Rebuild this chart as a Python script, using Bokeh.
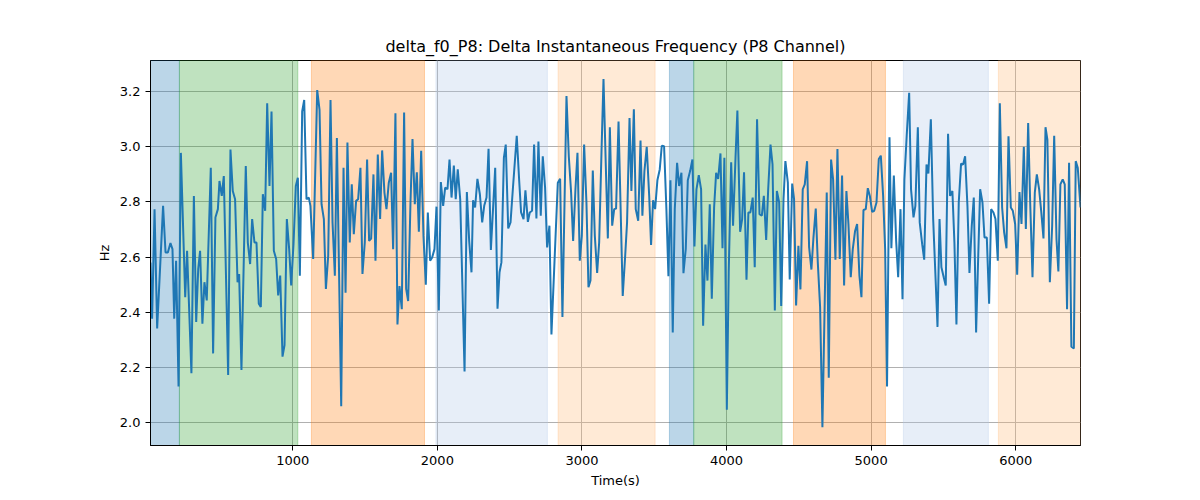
from bokeh.embed import file_html
from bokeh.resources import INLINE
from bokeh.models import ColumnDataSource, BoxAnnotation, Range1d, FixedTicker, NumeralTickFormatter
from bokeh.plotting import figure

# time stamps (s) and delta instantaneous frequency (Hz)
time_s = [
    16, 27, 44, 62, 103, 120, 136, 154, 168, 180, 193, 210, 226, 256, 269, 299, 316, 332, 346, 359,
    375, 389, 405, 433, 449, 465, 482, 493, 509, 523, 553, 569, 585, 601, 618, 629, 645, 675, 689, 705,
    719, 735, 749, 765, 779, 793, 809, 823, 839, 853, 869, 885, 899, 913, 929, 943, 959, 975, 989, 1005,
    1021, 1035, 1049, 1065, 1079, 1095, 1111,
    1122, 1141, 1169, 1185, 1199, 1215, 1229, 1245, 1261, 1275, 1291, 1305, 1335, 1351, 1365, 1378, 1394, 1408,
    1422, 1438, 1452, 1468, 1482, 1498, 1514, 1528, 1542, 1558, 1572, 1588, 1604, 1618, 1634, 1648, 1664, 1680,
    1694, 1710, 1724, 1738, 1754, 1770, 1784, 1798, 1814, 1828, 1844, 1858, 1872, 1888, 1904, 1920, 1934, 1950,
    1964, 1980, 1994, 2010, 2024, 2040, 2054, 2070, 2084, 2098, 2114, 2127, 2141,
    2158, 2188, 2204, 2220, 2236, 2247, 2261, 2277, 2294, 2310, 2324, 2340, 2354, 2370, 2400, 2416, 2430, 2443,
    2460, 2473, 2490, 2506, 2522, 2549, 2566, 2579, 2596, 2609, 2626, 2639, 2655, 2669, 2685, 2699, 2715, 2729,
    2745, 2759, 2775, 2789, 2833, 2849, 2865, 2893, 2909, 2925, 2939, 2955, 2969, 2985, 2999, 3015, 3031, 3045,
    3059, 3075, 3089, 3105, 3119, 3135, 3149, 3165, 3179, 3193,
    3209, 3223, 3236, 3253, 3282, 3299, 3312, 3329, 3342, 3359, 3372, 3389, 3405, 3418, 3432, 3448, 3465, 3478,
    3492, 3506, 3522, 3538, 3552, 3568, 3584, 3598, 3612, 3628, 3642, 3658, 3672, 3688, 3702, 3718, 3732, 3748,
    3764, 3778, 3792, 3808, 3824, 3838, 3854, 3868, 3884, 3898, 3914, 3928, 3942, 3958, 3972, 3985, 4002, 4015,
    4032, 4045, 4062, 4075, 4094, 4108, 4121, 4138, 4151, 4165, 4181, 4195, 4211, 4228,
    4244, 4258, 4274, 4288, 4304, 4318, 4334, 4348, 4364, 4378, 4394, 4407, 4424, 4437, 4454, 4467, 4481, 4497,
    4511, 4527, 4541, 4557, 4571, 4587, 4601, 4617, 4631, 4647, 4663, 4693, 4707, 4723, 4737, 4753, 4767, 4783,
    4799, 4813, 4829, 4843, 4859, 4873, 4889, 4903, 4919, 4933, 4947, 4963, 4977, 4991, 5007, 5021, 5037, 5053,
    5067, 5083, 5097, 5110, 5127, 5140, 5157, 5173, 5187, 5203, 5217, 5230, 5246, 5263, 5276, 5293, 5306, 5323,
    5336,
    5353, 5367, 5383, 5396, 5413, 5429, 5443, 5459, 5473, 5486, 5502, 5516, 5532, 5546, 5562, 5576, 5590, 5606,
    5622, 5636, 5650, 5666, 5680, 5696, 5710, 5726, 5742, 5754, 5770, 5784, 5800, 5816, 5830, 5846, 5860, 5876,
    5890, 5906, 5920, 5936, 5950, 5966, 5980, 5996, 6010, 6026, 6040, 6056, 6070, 6086, 6100, 6116, 6132, 6146,
    6162, 6176, 6192, 6206, 6219, 6236, 6252, 6266, 6282, 6295, 6309, 6325, 6339, 6355, 6369, 6385, 6402, 6415,
    6429, 6448,
]
delta_hz = [
    2.580, 2.377, 2.774, 2.341, 2.786, 2.617, 2.617, 2.651, 2.629, 2.377, 2.587, 2.131, 2.978, 2.455, 2.623, 2.179, 2.822, 2.365, 2.557, 2.623,
    2.359, 2.509, 2.443, 2.924, 2.251, 2.744, 2.774, 2.876, 2.822, 2.894, 2.173, 2.990, 2.840, 2.810, 2.509, 2.539, 2.191, 2.930, 2.653, 2.575,
    2.738, 2.653, 2.653, 2.431, 2.419, 2.828, 2.768, 3.158, 2.858, 3.128, 2.623, 2.593, 2.461, 2.533, 2.239, 2.281, 2.738, 2.629, 2.497, 2.647,
    2.858, 2.888, 2.533, 3.128, 3.170, 2.810, 2.816,
    2.786, 2.593, 3.206, 3.134, 2.792, 2.738, 2.485, 2.605, 3.170, 2.726, 2.533, 3.032, 2.059, 2.924, 2.471, 3.016, 2.653, 2.864,
    2.683, 2.804, 2.810, 2.924, 2.539, 2.653, 2.954, 2.659, 2.667, 2.900, 2.587, 2.972, 2.738, 2.987, 2.834, 2.774, 2.870, 2.906,
    2.629, 3.122, 2.356, 2.495, 2.411, 3.124, 2.485, 2.441, 2.798, 3.028, 2.792, 2.908, 2.692, 2.986, 2.677, 2.500, 2.762, 2.587,
    2.599, 2.629, 2.783, 2.407, 2.872, 2.786, 2.852, 2.846, 2.954, 2.816, 2.932, 2.810, 2.918,
    2.810, 2.185, 2.836, 2.659, 2.545, 2.806, 2.780, 2.884, 2.828, 2.726, 2.786, 2.816, 2.993, 2.626, 2.924, 2.413, 2.545, 2.581,
    2.960, 3.008, 2.704, 2.726, 2.846, 3.040, 2.876, 2.762, 2.738, 2.842, 2.728, 2.762, 2.768, 3.008, 2.740, 3.019, 2.750, 2.966,
    2.852, 2.635, 2.714, 2.320, 2.870, 2.884, 2.383, 3.184, 2.966, 2.834, 2.659, 2.846, 2.978, 2.587, 2.677, 3.008, 2.798, 2.491,
    2.515, 2.914, 2.677, 2.543, 2.653, 2.978, 3.246, 2.930, 2.668, 3.071,
    2.714, 2.774, 2.776, 3.092, 2.459, 2.605, 2.726, 3.104, 2.840, 3.136, 2.774, 2.732, 3.023, 2.750, 2.912, 3.000, 2.822, 2.644,
    2.806, 2.774, 2.880, 2.918, 3.004, 3.002, 2.774, 2.531, 2.879, 2.327, 2.774, 2.942, 2.858, 2.906, 2.542, 2.630, 2.879, 2.912,
    2.954, 2.639, 2.846, 2.897, 2.846, 2.351, 2.646, 2.515, 2.792, 2.449, 2.780, 2.906, 2.884, 2.976, 2.632, 2.960, 2.047, 2.545,
    2.944, 2.714, 2.960, 3.132, 2.692, 2.738, 2.908, 2.518, 2.762, 2.762, 2.816, 2.563, 3.100, 2.756,
    2.750, 2.822, 2.662, 2.846, 3.008, 2.936, 2.407, 2.840, 2.798, 2.423, 2.810, 2.948, 2.870, 2.519, 2.867, 2.810, 2.425, 2.641,
    2.483, 2.846, 2.864, 2.948, 2.636, 2.555, 2.671, 2.776, 2.582, 2.419, 1.983, 2.834, 2.163, 2.954, 2.882, 2.591, 2.992, 2.593,
    2.896, 2.497, 2.840, 2.720, 2.527, 2.629, 2.695, 2.720, 2.533, 2.455, 2.771, 2.774, 2.850, 2.822, 2.764, 2.768, 2.798, 2.956,
    2.968, 2.822, 2.629, 2.131, 3.035, 2.632, 2.896, 2.659, 2.527, 2.774, 2.447, 2.882, 3.040, 3.196, 2.846, 2.744, 2.786, 3.071,
    2.726,
    2.647, 2.591, 2.936, 2.903, 3.100, 2.738, 2.557, 2.347, 2.738, 2.563, 2.527, 2.497, 3.047, 2.822, 2.840, 2.653, 2.356, 2.798,
    2.939, 2.936, 2.966, 2.786, 2.543, 2.714, 2.816, 2.327, 2.629, 2.846, 2.798, 2.671, 2.671, 2.431, 2.774, 2.762, 2.738, 2.587,
    3.158, 2.780, 2.690, 2.632, 3.038, 2.780, 2.768, 2.720, 2.536, 2.836, 2.720, 3.000, 2.702, 3.086, 2.798, 2.527, 2.834, 2.900,
    2.846, 2.768, 2.668, 3.071, 3.026, 2.509, 2.714, 3.040, 2.665, 2.548, 2.864, 2.882, 2.864, 2.411, 2.942, 2.275, 2.269, 2.948,
    2.924, 2.780,
]

# shaded segments (start, end in seconds) and their colours
band_start = [16, 216, 1129, 1990, 2835, 3605, 3773, 4463, 5223, 5880]
band_end = [216, 1035, 1911, 2761, 3506, 3773, 4384, 5099, 5811, 6448]
band_color = ["#1f77b4", "#2ca02c", "#ff7f0e", "#aec7e8", "#ffbb78",
              "#1f77b4", "#2ca02c", "#ff7f0e", "#aec7e8", "#ffbb78"]

y_ticks = [2.0, 2.2, 2.4, 2.6, 2.8, 3.0, 3.2]
x_ticks = [1000, 2000, 3000, 4000, 5000, 6000]

source = ColumnDataSource(data={'t': time_s, 'hz': delta_hz})

p = figure(title="delta_f0_P8: Delta Instantaneous Frequency (P8 Channel)",
           x_axis_label='Time(s)', y_axis_label='Hz',
           width=1184, height=492,
           x_range=Range1d(16, 6448), y_range=Range1d(1.917, 3.313),
           output_backend="svg", toolbar_location=None,
           min_border_left=150, min_border_right=104,
           min_border_top=60, min_border_bottom=47)

for start, end, color in zip(band_start, band_end, band_color):
    band = BoxAnnotation(left=start, right=end, fill_color=color, fill_alpha=0.3,
                         line_color=color, line_alpha=0.3, line_width=1, level="underlay")
    p.add_layout(band)

p.line(x='t', y='hz', source=source, line_color="#1f77b4", line_width=2)

font = "DejaVu Sans"
p.title.text_font = font
p.title.text_font_size = '16px'
p.title.text_font_style = 'normal'
p.title.text_color = 'black'
p.title.align = 'center'

p.xaxis.ticker = FixedTicker(ticks=x_ticks)
p.yaxis.ticker = FixedTicker(ticks=y_ticks)
p.yaxis.formatter = NumeralTickFormatter(format="0.0")

for ax in (p.xaxis[0], p.yaxis[0]):
    ax.axis_label_text_font = font
    ax.axis_label_text_font_size = '13px'
    ax.axis_label_text_font_style = 'normal'
    ax.axis_label_text_color = 'black'
    ax.major_label_text_font = font
    ax.major_label_text_font_size = '13px'
    ax.major_label_text_color = 'black'
    ax.major_tick_in = 0
    ax.major_tick_out = 5
    ax.major_tick_line_color = 'black'
    ax.minor_tick_line_color = None
    ax.axis_line_color = "black"

p.grid.grid_line_color = "#b0b0b0"
p.grid.grid_line_width = 1
p.outline_line_color = "black"
p.outline_line_width = 1
p.background_fill_color = "white"

open("out.html", "w").write(file_html(p, INLINE))
